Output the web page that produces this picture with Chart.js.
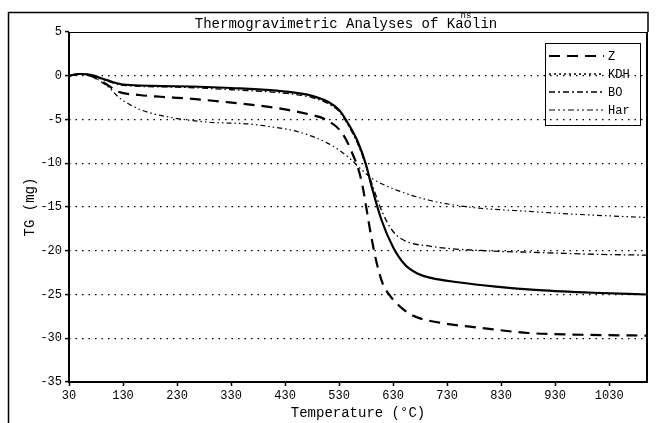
<!DOCTYPE html>
<html>
<head>
<meta charset="utf-8">
<script src="https://cdn.jsdelivr.net/npm/chart.js@4/dist/chart.umd.min.js"></script>
<style>
  html, body { margin: 0; padding: 0; background: #fff; }
  #wrap { width: 656px; height: 423px; position: relative; }
</style>
</head>
<body>
<div id="wrap"><canvas id="c"></canvas></div>
<script>
// TG curves of four kaolins
const xTicks = [30, 130, 230, 330, 430, 530, 630, 730, 830, 930, 1030];
const seriesNames = ['Z', 'KDH', 'BO', 'Har'];

const zTemp = [30, 50, 70, 100, 120, 160, 200, 250, 320, 380, 435, 480, 505, 535, 552, 571, 589, 600, 611, 625, 645, 670, 725, 790, 880, 980, 1100];
const zTG = [0, 0.2, 0, -1.0, -1.8, -2.2, -2.4, -2.6, -3.0, -3.4, -3.9, -4.5, -5.0, -6.5, -8.5, -11.9, -18.2, -21.5, -23.8, -25.2, -26.5, -27.5, -28.3, -28.8, -29.4, -29.6, -29.7];

const kdhTemp = [30, 50, 70, 100, 130, 230, 330, 430, 480, 510, 530, 550, 565, 580, 590, 608, 630, 652, 675, 700, 750, 820, 900, 1000, 1100];
const kdhTG = [0, 0.2, 0.1, -0.5, -1.0, -1.2, -1.4, -1.8, -2.3, -3.0, -3.9, -5.8, -7.6, -10.2, -12.6, -16.4, -19.6, -21.6, -22.6, -23.1, -23.6, -24.1, -24.5, -24.8, -25.0];

const boTemp = [30, 50, 70, 100, 130, 230, 330, 430, 480, 510, 530, 550, 570, 590, 610, 630, 650, 700, 800, 900, 1000, 1100];
const boTG = [0, 0.2, 0.1, -0.6, -1.1, -1.3, -1.6, -2.0, -2.5, -3.2, -4.1, -6.0, -8.6, -12.2, -15.6, -17.8, -18.8, -19.5, -20.0, -20.2, -20.4, -20.5];

const harTemp = [30, 50, 70, 85, 105, 121, 140, 163, 213, 287, 361, 400, 454, 515, 547, 571, 590, 634, 695, 770, 880, 990, 1100];
const harTG = [0, 0.2, 0, -0.5, -1.4, -2.4, -3.2, -3.9, -4.7, -5.3, -5.5, -5.8, -6.4, -7.9, -9.3, -10.7, -11.7, -13.0, -14.2, -15.0, -15.5, -15.9, -16.2];

const pairs = (xs, ys) => xs.map((x, i) => ({ x, y: ys[i] }));

const MONO = "'Liberation Mono', 'DejaVu Sans Mono', monospace";

function line(label, data, width, dash, legendDash, legendWidth) {
  return {
    label,
    data,
    borderColor: '#000',
    borderWidth: width,
    borderDash: dash,
    legendDash,
    legendWidth,
    pointRadius: 0,
    fill: false,
    cubicInterpolationMode: 'monotone',
  };
}

// title, outer frame, plot frame and the boxed legend
const decor = {
  id: 'decor',
  afterDraw(chart) {
    const { ctx, chartArea: a } = chart;
    ctx.save();
    ctx.strokeStyle = '#000';
    ctx.lineCap = 'butt';

    // outer page frame
    ctx.lineWidth = 1.5;
    ctx.beginPath();
    ctx.moveTo(8.5, 423);
    ctx.lineTo(8.5, 12.5);
    ctx.lineTo(648, 12.5);
    ctx.lineTo(648, a.top);
    ctx.stroke();

    // plot frame
    ctx.lineWidth = 1;
    ctx.beginPath();
    ctx.moveTo(a.left, a.top + 0.5);
    ctx.lineTo(a.right, a.top + 0.5);
    ctx.stroke();
    ctx.lineWidth = 2;
    ctx.beginPath();
    ctx.moveTo(a.left, a.top);
    ctx.lineTo(a.left, a.bottom);
    ctx.lineTo(a.right, a.bottom);
    ctx.lineTo(a.right, a.top);
    ctx.stroke();

    // title
    ctx.fillStyle = '#000';
    ctx.font = '14px ' + MONO;
    ctx.textAlign = 'center';
    ctx.textBaseline = 'middle';
    ctx.fillText('Thermogravimetric Analyses of Kaolin', 346, 24);
    ctx.font = '9px ' + MONO;
    ctx.fillText('ns', 466, 16);

    // legend
    const lx = 545, ly = 43, lw = 95, lh = 82;
    ctx.lineWidth = 1;
    ctx.strokeRect(lx + 0.5, ly + 0.5, lw, lh);
    ctx.font = '12px ' + MONO;
    ctx.textAlign = 'left';
    chart.data.datasets.forEach((ds, i) => {
      const y = ly + 13 + i * 18;
      ctx.lineWidth = ds.legendWidth;
      ctx.setLineDash(ds.legendDash);
      ctx.beginPath();
      ctx.moveTo(lx + 4, y);
      ctx.lineTo(lx + 59, y);
      ctx.stroke();
      ctx.setLineDash([]);
      ctx.fillText(ds.label, lx + 63, y + 1);
    });
    ctx.restore();
  },
};

new Chart(document.getElementById('c'), {
  type: 'line',
  data: {
    datasets: [
      line(seriesNames[0], pairs(zTemp, zTG), 2.2, [11, 7], [11, 7], 2),
      line(seriesNames[1], pairs(kdhTemp, kdhTG), 2.2, [], [2, 3], 1.4),
      line(seriesNames[2], pairs(boTemp, boTG), 1.3, [6, 3, 1.5, 3], [6, 3, 2, 3], 1.3),
      line(seriesNames[3], pairs(harTemp, harTG), 1.2, [5, 3, 1.5, 3, 1.5, 3], [6, 3, 2, 3, 2, 3], 1.2),
    ],
  },
  options: {
    responsive: true,
    maintainAspectRatio: false,
    animation: false,
    layout: { padding: { left: 0, right: 9, top: 32, bottom: 0 } },
    plugins: {
      legend: { display: false },
      title: { display: false },
      tooltip: { enabled: false },
    },
    scales: {
      x: {
        type: 'linear',
        min: 30,
        max: 1100,
        afterBuildTicks: (s) => { s.ticks = xTicks.map((v) => ({ value: v })); },
        afterFit: (s) => { s.height = 41; },
        ticks: {
          color: '#000',
          font: { family: MONO, size: 12 },
          padding: 3,
          maxRotation: 0,
          autoSkip: false,
          callback: (v) => String(v),
        },
        grid: { drawOnChartArea: false, tickLength: 4, tickColor: '#000', tickWidth: 1.5 },
        border: { display: false },
        title: {
          display: true,
          text: 'Temperature (°C)',
          color: '#000',
          font: { family: MONO, size: 14 },
          padding: { top: 0, bottom: 1 },
        },
      },
      y: {
        min: -35,
        max: 5,
        afterFit: (s) => { s.width = 69; },
        ticks: {
          stepSize: 5,
          color: '#000',
          font: { family: MONO, size: 12 },
          padding: 3,
          callback: (v) => String(v),
        },
        grid: {
          color: (c) => (c.tick && (c.tick.value === 5 || c.tick.value === -35)) ? 'rgba(0,0,0,0)' : '#000',
          lineWidth: 1.2,
          tickLength: 4,
          tickColor: '#000',
          tickWidth: 1.5,
          tickBorderDash: [],
        },
        border: { display: false, dash: [1.5, 5] },
        title: {
          display: true,
          text: 'TG (mg)',
          color: '#000',
          font: { family: MONO, size: 14 },
          padding: { top: 22, bottom: 0 },
        },
      },
    },
  },
  plugins: [decor],
});
</script>
</body>
</html>
